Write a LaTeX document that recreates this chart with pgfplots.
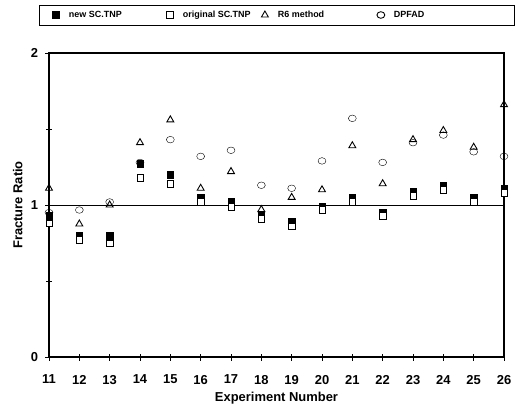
\documentclass[border=0pt]{standalone}
\usepackage{fontspec}
\setmainfont{Liberation Sans}
\usepackage{pgfplots}
\pgfplotsset{compat=1.18}

\begin{document}
\begin{tikzpicture}
\begin{axis}[
  scale only axis,
  width=455bp, height=304bp,
  xmin=11, xmax=26, ymin=0, ymax=2,
  xtick={11,...,26},
  ytick={0,1,2},
  minor ytick={0.5,1.5},
  xtick pos=bottom, ytick pos=left,
  tick align=center,
  major tick length=7bp, minor tick length=5bp,
  every tick/.style={black, line width=0.8pt},
  axis line style={line width=1.1pt},
  /pgf/number format/assume math mode=true,
  tick label style={font=\fontsize{13}{15}\selectfont\bfseries},
  xticklabel style={yshift=-11bp},
  yticklabel style={xshift=-4bp},
  xlabel={Experiment Number},
  ylabel={Fracture Ratio},
  label style={font=\fontsize{13}{15}\selectfont\bfseries},
  xlabel style={yshift=-1bp},
  ylabel style={yshift=1.5bp},
  legend columns=4,
  legend cell align=left,
  legend image code/.code={%
    \path[draw=none, fill=none] (0bp,-3bp) rectangle (20bp,3bp);
    \draw[#1] plot coordinates {(9bp,0bp)};},
  legend style={
    at={(0.502,1.125)}, anchor=center,
    draw=black, line width=0.9pt,
    inner xsep=7bp, inner ysep=4bp,
    font=\fontsize{9}{11}\selectfont\bfseries,
    /tikz/every even column/.append style={column sep=0bp},
  },
  mark options={solid, line width=0.9pt},
  clip=false,
]
% reference line at ratio 1
\addplot[black, line width=0.9pt, forget plot] coordinates {(11,1) (26,1)};

% filled square: new SC.TNP
\addplot[only marks, mark=square*, mark size=3.3bp, black, mark options={fill=black}]
  coordinates {
  (11,0.93) (12,0.80) (13,0.80) (14,1.27) (15,1.20) (16,1.05) (17,1.02) (18,0.93)
  (19,0.89) (20,0.99) (21,1.05) (22,0.95) (23,1.09) (24,1.13) (25,1.05) (26,1.11)};
\addlegendentry{\makebox[90bp][l]{new SC.TNP}}

% open square: original SC.TNP
\addplot[only marks, mark=square*, mark size=3.3bp, black, mark options={fill=white}]
  coordinates {
  (11,0.88) (12,0.77) (13,0.75) (14,1.18) (15,1.14) (16,1.02) (17,0.99) (18,0.91)
  (19,0.86) (20,0.97) (21,1.02) (22,0.93) (23,1.06) (24,1.10) (25,1.02) (26,1.08)};
\addlegendentry{\makebox[71bp][l]{original SC.TNP}}

% open triangle: R6 method
\addplot[only marks, mark=triangle, mark size=4bp, black]
  coordinates {
  (11,1.11) (12,0.875) (13,1.00) (14,1.41) (15,1.56) (16,1.11) (17,1.22) (18,0.97)
  (19,1.05) (20,1.10) (21,1.39) (22,1.14) (23,1.43) (24,1.49) (25,1.38) (26,1.66)};
\addlegendentry{\makebox[92bp][l]{R6 method}}

% open circle: DPFAD
\addplot[only marks, mark=o, mark size=3.3bp, black, mark options={xscale=1.2}]
  coordinates {
  (11,0.95) (12,0.967) (13,1.02) (14,1.28) (15,1.43) (16,1.32) (17,1.36) (18,1.13)
  (19,1.11) (20,1.29) (21,1.57) (22,1.28) (23,1.41) (24,1.46) (25,1.35) (26,1.32)};
\addlegendentry{\makebox[112bp][l]{DPFAD}}
\end{axis}
\pgfresetboundingbox
\path (current axis.south west) +(-49bp,-49bp);
\path (current axis.north east) +(22bp,53bp);
\end{tikzpicture}
\end{document}
